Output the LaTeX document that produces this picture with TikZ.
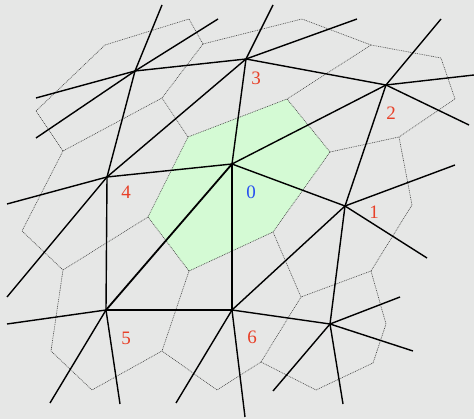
\documentclass[tikz,border=0pt]{standalone}
\usepackage{fontspec}
\setmainfont{Liberation Serif}
\definecolor{bg}{RGB}{230,231,230}
\definecolor{cellgreen}{RGB}{212,250,212}
\definecolor{lblred}{RGB}{232,64,40}
\definecolor{lblblue}{RGB}{40,80,240}
\begin{document}
\begin{tikzpicture}[x=1pt,y=-1pt,
  edge/.style={black,line width=1.4pt},
  vor/.style={gray!60!black,line width=0.65pt,dash pattern=on 0.9pt off 0.9pt},
  lbl/.style={font=\fontsize{19}{21}\selectfont,text=lblred,inner sep=0pt},
]
\fill[bg] (0,0) rectangle (474,419);
\useasboundingbox (0,0) rectangle (474,419);
% Voronoi vertices
\coordinate (p1) at (36,111);  \coordinate (p2) at (105,45);
\coordinate (p3) at (189,19);  \coordinate (p4) at (203,44);
\coordinate (p5) at (162,98);  \coordinate (p6) at (63,151);
\coordinate (p7) at (302,19);  \coordinate (p8) at (371,45);
\coordinate (p9) at (441,58);  \coordinate (p10) at (455,99);
\coordinate (p11) at (399,137);\coordinate (p12) at (412,205);
\coordinate (p13) at (371,271);\coordinate (p14) at (301,297);
\coordinate (p15) at (386,324);\coordinate (p16) at (373,363);
\coordinate (p17) at (316,390);\coordinate (p18) at (261,362);
\coordinate (p19) at (217,390);\coordinate (p20) at (162,351);
\coordinate (p21) at (63,270); \coordinate (p22) at (51,351);
\coordinate (p23) at (92,390); \coordinate (p24) at (22,231);
\coordinate (g0) at (188,137); \coordinate (g1) at (287,99);
\coordinate (g2) at (330,152); \coordinate (g3) at (273,232);
\coordinate (g4) at (189,271); \coordinate (g5) at (148,217);
% green cell
\fill[cellgreen] (g0) -- (g1) -- (g2) -- (g3) -- (g4) -- (g5) -- cycle;
\draw[vor] (g0) -- (g1) -- (g2) -- (g3) -- (g4) -- (g5) -- cycle;
% other Voronoi edges
\draw[vor] (p1) -- (p2) -- (p3) -- (p4) -- (p5) -- (p6) -- cycle;
\draw[vor] (p4) -- (p7) -- (p8) -- (g1);
\draw[vor] (g0) -- (p5);
\draw[vor] (p8) -- (p9) -- (p10) -- (p11) -- (g2);
\draw[vor] (p11) -- (p12) -- (p13) -- (p14) -- (g3);
\draw[vor] (p13) -- (p15) -- (p16) -- (p17) -- (p18) -- (p14);
\draw[vor] (p18) -- (p19) -- (p20) -- (g4);
\draw[vor] (g5) -- (p21) -- (p22) -- (p23) -- (p20);
\draw[vor] (p6) -- (p24) -- (p21);
% Delaunay vertices
\coordinate (vA) at (135,71);  \coordinate (v3) at (246,59);
\coordinate (v2) at (386,85);  \coordinate (v0) at (232,164);
\coordinate (v4) at (107,177); \coordinate (v1) at (345,206);
\coordinate (v5) at (106,310); \coordinate (v6) at (232,310);
\coordinate (vB) at (330,324);
% free ends
\coordinate (a1) at (162,5);  \coordinate (a2) at (218,19);
\coordinate (a3) at (36,98);  \coordinate (a4) at (36,138);
\coordinate (t1) at (273,5);  \coordinate (t2) at (357,19);
\coordinate (b1) at (441,19); \coordinate (b2) at (474,75);
\coordinate (b3) at (469,125);
\coordinate (c1) at (455,165);\coordinate (c2) at (427,258);
\coordinate (d1) at (400,297);\coordinate (d2) at (413,351);
\coordinate (d3) at (343,404);\coordinate (d4) at (273,391);
\coordinate (s1) at (245,417);\coordinate (s2) at (176,403);
\coordinate (f1) at (7,324);  \coordinate (f2) at (50,403);
\coordinate (f3) at (120,404);
\coordinate (e1) at (7,204);  \coordinate (e2) at (7,297);
% Delaunay edges
\draw[edge] (vA) -- (v4);  \draw[edge] (vA) -- (v3);
\draw[edge] (v3) -- (v4);  \draw[edge] (v3) -- (v0);
\draw[edge] (v3) -- (v2);  \draw[edge] (v2) -- (v0);
\draw[edge] (v2) -- (v1);  \draw[edge] (v1) -- (v0);
\draw[edge] (v1) -- (vB);  \draw[edge] (v1) -- (v6);
\draw[edge] (v0) -- (v4);  \draw[edge,line width=1.8pt] (v0) -- (v5);
\draw[edge] (v0) -- (v6);  \draw[edge] (v4) -- (v5);
\draw[edge] (v5) -- (v6);  \draw[edge] (v6) -- (vB);
% rays
\draw[edge] (vA) -- (a1); \draw[edge] (vA) -- (a2);
\draw[edge] (vA) -- (a3); \draw[edge] (vA) -- (a4);
\draw[edge] (v3) -- (t1); \draw[edge] (v3) -- (t2);
\draw[edge] (v2) -- (b1); \draw[edge] (v2) -- (b2); \draw[edge] (v2) -- (b3);
\draw[edge] (v1) -- (c1); \draw[edge] (v1) -- (c2);
\draw[edge] (vB) -- (d1); \draw[edge] (vB) -- (d2);
\draw[edge] (vB) -- (d3); \draw[edge] (vB) -- (d4);
\draw[edge] (v6) -- (s1); \draw[edge] (v6) -- (s2);
\draw[edge] (v5) -- (f1); \draw[edge] (v5) -- (f2); \draw[edge] (v5) -- (f3);
\draw[edge] (v4) -- (e1); \draw[edge] (v4) -- (e2);
% labels
\node[lbl] (l3) at (256,78) {3};
\node[lbl] (l2) at (391,113) {2};
\node[lbl,text=lblblue] (l0) at (251,192) {0};
\node[lbl] (l1) at (374,212) {1};
\node[lbl] (l4) at (126,192) {4};
\node[lbl] (l5) at (126,338) {5};
\node[lbl] (l6) at (252,337) {6};
\end{tikzpicture}
\end{document}
